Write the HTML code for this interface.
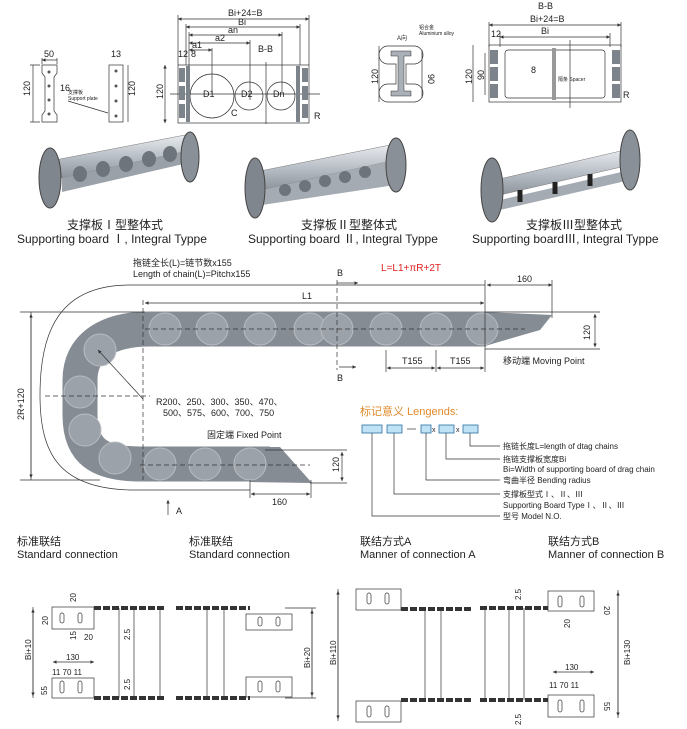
<!DOCTYPE html>
<html><head><meta charset="utf-8"><style>
html,body{margin:0;padding:0;background:#fff}
svg{display:block}
text{font-family:"Liberation Sans","Noto Sans CJK SC",sans-serif;fill:#222}
.d{stroke:#333;stroke-width:.7;fill:none}
.t{font-size:9px}
.c{font-size:12px}
</style></head><body>
<svg width="687" height="729" viewBox="0 0 687 729" xmlns="http://www.w3.org/2000/svg">
<defs>
<marker id="a" viewBox="0 0 6 6" refX="6" refY="3" markerWidth="5" markerHeight="5" orient="auto-start-reverse"><path d="M0,0L6,3L0,6z" fill="#333"/></marker>
<linearGradient id="m" x1="0" y1="0" x2="0" y2="1"><stop offset="0" stop-color="#e8ebef"/><stop offset=".5" stop-color="#b9bfc6"/><stop offset="1" stop-color="#8d949c"/></linearGradient>
</defs>

<!-- TOP: support plates -->
<g class="d">
<path d="M42,65h15v8l-3,4v34l3,4v7h-15v-7l3,-4v-34l-3,-4z"/>
<rect x="109" y="65" width="14" height="57"/>
<path d="M42,60h15M42,58v6M57,58v6" marker-start="url(#a)"/>
<path d="M33,65v57" /><path d="M30,65h10M30,122h10"/>
<path d="M128,65v57"/>
</g>
<g fill="#555"><circle cx="49" cy="72" r="1.5"/><circle cx="49" cy="86" r="1.5"/><circle cx="49" cy="100" r="1.5"/><circle cx="49" cy="114" r="1.5"/>
<circle cx="116" cy="71" r="1.5"/><circle cx="116" cy="86" r="1.5"/><circle cx="116" cy="101" r="1.5"/><circle cx="116" cy="116" r="1.5"/></g>
<text class="t" x="44" y="57">50</text><text class="t" x="111" y="57">13</text>
<text class="t" transform="translate(30,96) rotate(-90)">120</text>
<text class="t" transform="translate(135,96) rotate(-90)">120</text>
<text class="t" x="60" y="91">16</text>
<text x="68" y="94" font-size="5">支撑板</text><text x="68" y="100" font-size="5">Support plate</text>
<path class="d" d="M68,101l40,12"/>

<!-- B-B drawing -->
<g class="d">
<rect x="178" y="65" width="131" height="58"/>
<path d="M178,19h131" marker-start="url(#a)" marker-end="url(#a)"/>
<path d="M186,27h114" marker-start="url(#a)" marker-end="url(#a)"/>
<path d="M189,35h93" marker-start="url(#a)" marker-end="url(#a)"/>
<path d="M189,43h61" marker-start="url(#a)" marker-end="url(#a)"/>
<path d="M189,50h23" marker-start="url(#a)" marker-end="url(#a)"/>
<path d="M178,15v50M309,15v50M186,24v41M300,24v41M189,32v60M282,32v60M250,40v60M212,48v45"/>
<circle cx="212" cy="96" r="22"/><circle cx="249" cy="96" r="14"/><circle cx="281" cy="96" r="14"/>
<path d="M170,94h150M266,62v62" />
<path d="M165,65v58" marker-start="url(#a)" marker-end="url(#a)"/>
</g>
<g fill="#7d838a"><rect x="179" y="68" width="6" height="14"/><rect x="179" y="86" width="6" height="14"/><rect x="179" y="104" width="6" height="14"/>
<rect x="186" y="66" width="4" height="56"/><rect x="296" y="66" width="4" height="56"/>
<rect x="302" y="68" width="6" height="14"/><rect x="302" y="86" width="6" height="14"/><rect x="302" y="104" width="6" height="14"/></g>
<text class="t" x="228" y="16">Bi+24=B</text><text class="t" x="238" y="25">Bi</text><text class="t" x="228" y="33">an</text>
<text class="t" x="215" y="41">a2</text><text class="t" x="192" y="48">a1</text><text class="t" x="178" y="57">12</text><text class="t" x="191" y="57">8</text>
<text class="t" x="258" y="52">B-B</text>
<text class="t" transform="translate(163,99) rotate(-90)">120</text>
<text class="t" x="203" y="97">D1</text><text class="t" x="241" y="97">D2</text><text class="t" x="273" y="97">Dn</text>
<text class="t" x="231" y="116">C</text><text class="t" x="314" y="119">R</text>

<!-- I shape -->
<path class="d" d="M388,46h26a9,9 0 0 1 0,18h-8v20h8a9,9 0 0 1 0,18h-26a9,9 0 0 1 0,-18h8v-20h-8a9,9 0 0 1 0,-18z"/>
<path d="M391,51h20v5h-7v35h7v5h-20v-5h7v-35h-7z" fill="#aab0b7" stroke="#333" stroke-width=".5"/>
<text x="397" y="40" font-size="6">A向</text><text x="419" y="29" font-size="5">铝合金</text><text x="419" y="35" font-size="5">Aluminium alloy</text>
<text class="t" transform="translate(378,84) rotate(-90)">120</text><text class="t" transform="translate(428,74) rotate(90)">90</text>
<path class="d" d="M379,46v56M422,50v48"/>

<!-- right B-B -->
<text class="t" x="538" y="9">B-B</text><text class="t" x="530" y="22">Bi+24=B</text><text class="t" x="541" y="34">Bi</text><text class="t" x="491" y="37">12</text>
<g class="d"><path d="M489,25h132" marker-start="url(#a)" marker-end="url(#a)"/><path d="M500,37h110" marker-start="url(#a)" marker-end="url(#a)"/>
<path d="M489,22v25M621,22v25M500,33v14M610,33v14"/>
<rect x="489" y="45" width="132" height="57"/><rect x="505" y="50" width="100" height="48" rx="3"/>
<path d="M473,45v57M485,53v42" /><path d="M570,40v68"/></g>
<rect x="552" y="48" width="4" height="52" fill="#999"/>
<g fill="#7d838a"><rect x="490" y="50" width="8" height="14"/><rect x="490" y="67" width="8" height="14"/><rect x="490" y="84" width="8" height="14"/>
<rect x="612" y="50" width="8" height="14"/><rect x="612" y="67" width="8" height="14"/><rect x="612" y="84" width="8" height="14"/></g>
<text class="t" transform="translate(472,84) rotate(-90)">120</text><text class="t" transform="translate(484,80) rotate(-90)">90</text>
<text class="t" x="531" y="73">8</text><text class="t" x="623" y="98">R</text><text x="558" y="81" font-size="5">隔条 Spacer</text>

<!-- photos -->
<g>
<polygon points="55,160 185,135 192,150 62,178" fill="url(#m)" stroke="#777" stroke-width=".5"/>
<polygon points="62,178 192,150 192,162 62,192" fill="#9aa1a8"/>
<g fill="#6d747c"><ellipse cx="80" cy="174" rx="7" ry="8"/><ellipse cx="103" cy="169" rx="7" ry="8"/><ellipse cx="126" cy="164" rx="7" ry="8"/><ellipse cx="149" cy="159" rx="7" ry="8"/><ellipse cx="170" cy="154" rx="7" ry="8"/></g>
<ellipse cx="50" cy="178" rx="11" ry="30" fill="#80868e" stroke="#444"/>
<ellipse cx="190" cy="157" rx="9" ry="25" fill="#8a9098" stroke="#444"/>
</g>
<g>
<polygon points="255,172 390,145 395,160 262,190" fill="url(#m)" stroke="#777" stroke-width=".5"/>
<polygon points="262,190 395,160 395,185 262,205" fill="#a5abb2"/>
<g fill="#6d747c"><ellipse cx="285" cy="190" rx="6" ry="6"/><ellipse cx="305" cy="186" rx="6" ry="6"/><ellipse cx="325" cy="181" rx="6" ry="6"/><ellipse cx="345" cy="177" rx="6" ry="6"/><ellipse cx="365" cy="172" rx="6" ry="6"/></g>
<ellipse cx="255" cy="188" rx="10" ry="30" fill="#80868e" stroke="#444"/>
<ellipse cx="396" cy="165" rx="10" ry="27" fill="#8a9098" stroke="#444"/>
</g>
<g>
<polygon points="495,180 625,150 630,165 500,195" fill="url(#m)" stroke="#777" stroke-width=".5"/>
<polygon points="500,200 630,170 630,180 500,210" fill="#a5abb2"/>
<path d="M520,190v12M555,182v12M590,174v12" stroke="#222" stroke-width="5"/>
<ellipse cx="492" cy="190" rx="11" ry="32" fill="#80868e" stroke="#444"/>
<ellipse cx="630" cy="160" rx="10" ry="30" fill="#8a9098" stroke="#444"/>
</g>
<text class="c" x="67" y="229">支撑板Ⅰ型整体式</text>
<text class="c" x="17" y="243">Supporting board Ⅰ, Integral Typpe</text>
<text class="c" x="301" y="229">支撑板Ⅱ型整体式</text>
<text class="c" x="248" y="243">Supporting board Ⅱ, Integral Typpe</text>
<text class="c" x="526" y="229">支撑板Ⅲ型整体式</text>
<text class="c" x="472" y="243">Supporting boardⅢ, Integral Typpe</text>

<!-- CHAIN -->
<text class="t" x="133" y="266">拖链全长(L)=链节数x155</text>
<text class="t" x="133" y="277">Length of chain(L)=Pitchx155</text>
<text x="381" y="271" font-size="10" style="fill:#e02020">L=L1+πR+2T</text>
<path class="d" d="M485,285H130C60,285 40,330 40,395C40,455 60,488 130,490H250"/>
<path d="M486,329H150C105,329 80,348 80,380V415C80,452 100,464 140,464H270" stroke="#868c93" stroke-width="35" fill="none"/>
<polygon points="485,312 552,315 540,330 485,346" fill="#868c93"/>
<polygon points="250,447 280,447 312,483 250,482" fill="#868c93"/>
<g fill="#9ca2a9" stroke="#b8bdc3" stroke-width="1">
<circle cx="165" cy="329" r="16"/><circle cx="212" cy="329" r="16"/><circle cx="260" cy="329" r="16"/><circle cx="310" cy="329" r="16"/><circle cx="337" cy="329" r="16"/><circle cx="386" cy="329" r="16"/><circle cx="436" cy="329" r="16"/><circle cx="482" cy="329" r="16"/>
<circle cx="100" cy="350" r="16"/><circle cx="80" cy="392" r="16"/><circle cx="85" cy="430" r="16"/><circle cx="115" cy="458" r="16"/><circle cx="160" cy="464" r="16"/><circle cx="205" cy="464" r="16"/><circle cx="250" cy="464" r="16"/>
</g>
<g class="d" stroke-dasharray="5,3">
<path d="M145,329H525M143,300V480M45,396H150M140,465H310"/>
<path d="M337,280V370"/>
</g>
<g class="d">
<path d="M20,312H145M20,480H100M31,312V480" />
<path d="M31,314V478" marker-start="url(#a)" marker-end="url(#a)"/>
<path d="M145,303H484" marker-start="url(#a)" marker-end="url(#a)"/>
<path d="M487,285H552" marker-start="url(#a)" marker-end="url(#a)"/>
<path d="M485,280V350M552,280V318M485,312H600M485,349H600"/>
<path d="M595,314V347" marker-start="url(#a)" marker-end="url(#a)"/>
<path d="M386,350V372M436,350V372M485,350V372"/>
<path d="M387,368H435" marker-start="url(#a)" marker-end="url(#a)"/>
<path d="M437,368H484" marker-start="url(#a)" marker-end="url(#a)"/>
<path d="M337,283H358" marker-end="url(#a)"/><path d="M339,367H356" marker-end="url(#a)"/>
<path d="M265,450H347M310,483H347"/>
<path d="M342,452V481" marker-start="url(#a)" marker-end="url(#a)"/>
<path d="M251,494H310" marker-start="url(#a)" marker-end="url(#a)"/>
<path d="M250,480V498M311,480V498"/>
<path d="M168,515V500" marker-end="url(#a)"/>
<path d="M143,399L98,350" marker-end="url(#a)"/>
</g>
<text class="t" transform="translate(24,420) rotate(-90)">2R+120</text>
<text class="t" x="302" y="299">L1</text>
<text class="t" x="517" y="282">160</text>
<text class="t" transform="translate(590,340) rotate(-90)">120</text>
<text class="t" x="337" y="276">B</text><text class="t" x="337" y="381">B</text>
<text class="t" x="402" y="364">T155</text><text class="t" x="450" y="364">T155</text>
<text class="t" x="503" y="364">移动端 Moving Point</text>
<text class="t" x="156" y="405">R200、250、300、350、470、</text>
<text class="t" x="163" y="416">500、575、600、700、750</text>
<text class="t" x="207" y="438">固定端 Fixed Point</text>
<text class="t" transform="translate(339,472) rotate(-90)">120</text>
<text class="t" x="272" y="505">160</text><text class="t" x="176" y="514">A</text>

<!-- Legends -->
<text x="360" y="415" font-size="11" style="fill:#e08a2a">标记意义 Lengends:</text>
<g fill="#bfe3f5" stroke="#2a6fa0" stroke-width=".8">
<rect x="362" y="425" width="20" height="8"/><rect x="387" y="425" width="15" height="8"/><rect x="421" y="425" width="10" height="8"/><rect x="439" y="425" width="15" height="8"/><rect x="463" y="425" width="15" height="8"/></g>
<path class="d" d="M407,429h9"/><text x="432" y="432" font-size="7">x</text><text x="456" y="432" font-size="7">x</text>
<g class="d">
<path d="M470,433V446H500M446,433V459H500M426,433V480H500M394,433V494H500M372,433V516H500"/>
</g>
<g font-size="8">
<text x="503" y="449">拖链长度L=length of dtag chains</text>
<text x="503" y="462">拖链支撑板宽度Bi</text>
<text x="503" y="472">Bi=Width of supporting board of drag chain</text>
<text x="503" y="483">弯曲半径 Bending radius</text>
<text x="503" y="497">支撑板型式Ⅰ、Ⅱ、Ⅲ</text>
<text x="503" y="508">Supporting Board TypeⅠ、Ⅱ、Ⅲ</text>
<text x="503" y="519">型号 Model N.O.</text>
</g>

<!-- BOTTOM -->
<g font-size="11">
<text x="17" y="545">标准联结</text><text x="17" y="558">Standard connection</text>
<text x="189" y="545">标准联结</text><text x="189" y="558">Standard connection</text>
<text x="360" y="545">联结方式A</text><text x="360" y="558">Manner of connection A</text>
<text x="548" y="545">联结方式B</text><text x="548" y="558">Manner of connection B</text>
</g>
<g class="d">
<rect x="52" y="607" width="42" height="22"/><rect x="52" y="678" width="42" height="20"/>
<path d="M119,608V698M134,608V698M160,608V698M33,607V698" />
<path d="M33,609V696" marker-start="url(#a)" marker-end="url(#a)"/>
<path d="M53,662H94" marker-start="url(#a)" marker-end="url(#a)"/>
<rect x="60" y="613" width="4" height="10" rx="2"/><rect x="78" y="613" width="4" height="10" rx="2"/>
<rect x="60" y="681" width="4" height="12" rx="2"/><rect x="78" y="681" width="4" height="12" rx="2"/>
<path d="M207,608V698M224,608V698M312,608V698" />
<rect x="246" y="614" width="46" height="16"/><rect x="246" y="677" width="46" height="20"/>
<rect x="258" y="617" width="4" height="9" rx="2"/><rect x="276" y="617" width="4" height="9" rx="2"/>
<rect x="258" y="681" width="4" height="11" rx="2"/><rect x="276" y="681" width="4" height="11" rx="2"/>
<path d="M312,610V696" marker-start="url(#a)" marker-end="url(#a)"/>
<path d="M285,608H316M285,698H316"/>
<rect x="356" y="589" width="45" height="21"/><rect x="356" y="701" width="45" height="21"/>
<rect x="367" y="593" width="4" height="11" rx="2"/><rect x="385" y="593" width="4" height="11" rx="2"/>
<rect x="367" y="706" width="4" height="11" rx="2"/><rect x="385" y="706" width="4" height="11" rx="2"/>
<path d="M425,610V700M441,610V700M338,589V721"/>
<path d="M338,591V719" marker-start="url(#a)" marker-end="url(#a)"/>
<rect x="548" y="591" width="46" height="20"/><rect x="548" y="695" width="46" height="22"/>
<path d="M485,608V700M509,608V700M524,608V700M618,590V718" />
<path d="M618,592V716" marker-start="url(#a)" marker-end="url(#a)"/>
<path d="M553,672H594" marker-start="url(#a)" marker-end="url(#a)"/>
<rect x="558" y="596" width="4" height="11" rx="2"/><rect x="580" y="596" width="4" height="11" rx="2"/>
<rect x="558" y="700" width="4" height="12" rx="2"/><rect x="580" y="700" width="4" height="12" rx="2"/>
</g>
<g stroke="#333" stroke-width="4" stroke-dasharray="7,2">
<path d="M94,608H164M94,698H164M176,608H250M176,698H250M401,609H471M401,700H471M480,608H548M480,700H548"/>
</g>
<g font-size="8">
<text transform="translate(31,660) rotate(-90)">Bi+10</text>
<text x="66" y="660">130</text><text x="52" y="675">11  70  11</text>
<text transform="translate(310,668) rotate(-90)">Bi+20</text>
<text transform="translate(336,665) rotate(-90)">Bi+110</text>
<text transform="translate(630,665) rotate(-90)">Bi+130</text>
<text x="565" y="670">130</text><text x="549" y="688">11  70  11</text>
<text transform="translate(130,640) rotate(-90)">2.5</text><text transform="translate(130,690) rotate(-90)">2.5</text>
<text transform="translate(521,600) rotate(-90)">2.5</text><text transform="translate(521,725) rotate(-90)">2.5</text>
<text transform="translate(76,602) rotate(-90)">20</text><text transform="translate(48,625) rotate(-90)">20</text>
<text transform="translate(76,640) rotate(-90)">15</text><text x="84" y="640">20</text>
<text transform="translate(47,695) rotate(-90)">55</text>
<text transform="translate(604,606) rotate(90)">20</text><text transform="translate(570,628) rotate(-90)">20</text>
<text transform="translate(604,702) rotate(90)">55</text>
</g>
</svg>
</body></html>
